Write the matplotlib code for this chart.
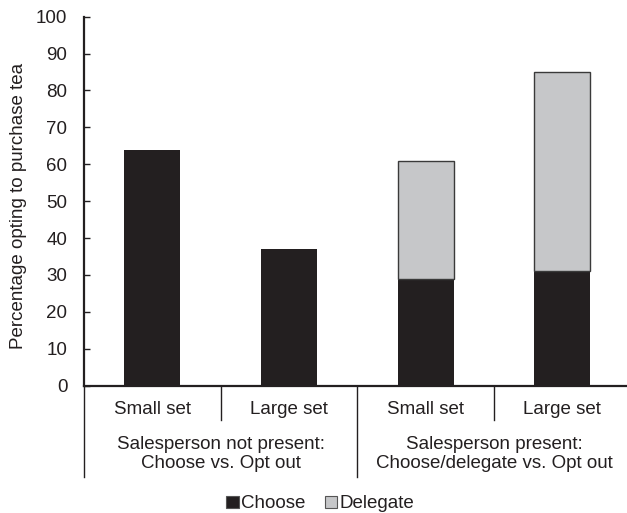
import numpy as np
import matplotlib.pyplot as plt
from matplotlib.lines import Line2D
from matplotlib.patches import Patch

plt.rcParams['font.family'] = ['Liberation Sans', 'DejaVu Sans']

conditions = ["Small set", "Large set", "Small set", "Large set"]
groups = ["Salesperson not present:\nChoose vs. Opt out",
          "Salesperson present:\nChoose/delegate vs. Opt out"]
choose = [64, 37, 29, 31]
delegate = [0, 0, 32, 54]

dark = '#231f20'
grey = '#c6c7c9'
fs = 13.5

W, H = 627, 513
fig = plt.figure(figsize=(W / 100, H / 100), dpi=100)
# axes box in pixels: left 84, right 630.5 (runs a bit past the edge), y0=385.7, y100=16.7
ax = fig.add_axes([84 / W, (H - 385.7) / H, (630.5 - 84) / W, 369 / H])

x = np.arange(len(conditions))
ax.bar(x, choose, width=0.41, color=dark, edgecolor='none', zorder=2)
dmask = np.array(delegate) > 0
ax.bar(x[dmask], np.array(delegate)[dmask], width=0.41, bottom=np.array(choose)[dmask],
       color=grey, edgecolor='#3a3a3a', linewidth=1.0, zorder=2)

ax.set_xlim(-0.5, 3.5)
ax.set_ylim(0, 100)
ax.set_yticks(range(0, 101, 10))
ax.tick_params(axis='y', direction='in', length=4, width=1, color=dark,
               labelsize=fs, labelcolor=dark, pad=12)
ax.set_xticks([])
for s in ['top', 'right']:
    ax.spines[s].set_visible(False)
ax.spines['left'].set_linewidth(1.6)
ax.spines['bottom'].set_linewidth(1.6)
ax.spines['left'].set_color(dark)
ax.spines['bottom'].set_color(dark)

# category separators below the axis
tr = ax.get_xaxis_transform()
h = 369.0
for xb in [0.5, 2.5]:
    ax.add_line(Line2D([xb, xb], [0, -34.3 / h], transform=tr, color=dark, lw=1, clip_on=False))
for xb in [-0.5, 1.5, 3.5]:
    ax.add_line(Line2D([xb, xb], [0, -91.3 / h], transform=tr, color=dark, lw=1, clip_on=False))

for xi, lab in zip(x, conditions):
    ax.text(xi, -(409 - 385.7) / h, lab, transform=tr, ha='center', va='center',
            fontsize=fs, color=dark)
for gi, lab in enumerate(groups):
    ax.text(0.5 + 2 * gi, -(454 - 385.7) / h, lab, transform=tr, ha='center', va='center',
            fontsize=fs, color=dark, linespacing=1.15)

fig.text(19 / W, 1 - 206 / H, "Percentage opting to purchase tea", rotation=90,
         ha='center', va='center', fontsize=fs, color=dark)

handles = [Patch(facecolor=dark, edgecolor='#555555', linewidth=0.8),
           Patch(facecolor=grey, edgecolor='#555555', linewidth=0.8)]
fig.legend(handles, ["Choose", "Delegate"], loc='center', bbox_to_anchor=(0.511, 1 - 504 / H),
           ncol=2, frameon=False, fontsize=fs, handlelength=0.65, handleheight=0.65,
           handletextpad=0.15, columnspacing=1.0, labelcolor=dark)

fig.savefig("out.png", dpi=100)
